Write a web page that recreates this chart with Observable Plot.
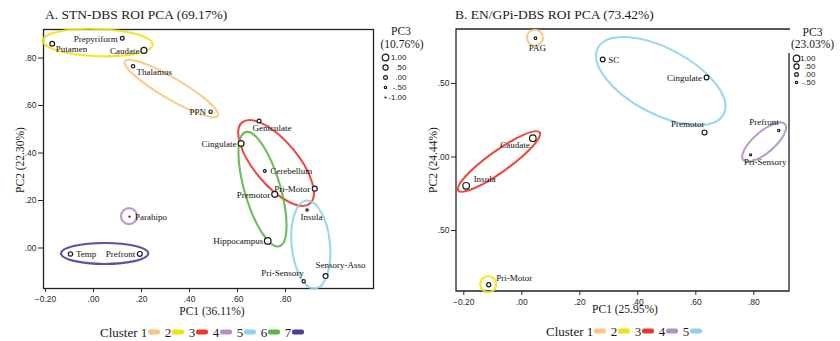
<!DOCTYPE html>
<html>
<head>
<meta charset="utf-8">
<script src="https://cdn.jsdelivr.net/npm/d3@7"></script>
<script src="https://cdn.jsdelivr.net/npm/@observablehq/plot@0.6"></script>
<style>
  html, body { margin: 0; padding: 0; background: #fff; }
  #chart { position: relative; width: 840px; height: 341px; overflow: hidden; background: #fff; }
  #chart > svg { position: absolute; overflow: visible; }
  .t { position: absolute; white-space: nowrap; font-family: "Liberation Serif", "Times New Roman", serif; color: #1a1a1a; line-height: 1; }
  .legend { position: absolute; display: flex; align-items: center; font-family: "Liberation Serif", serif; font-size: 13px; color: #1a1a1a; white-space: nowrap; line-height: 1; transform: translateY(-50%); }
  .sw { display: inline-block; width: 12px; height: 5px; border-radius: 2px; margin: 0 4.5px 0 1px; }
</style>
</head>
<body>
<div id="chart"></div>
<script>
// ---------------- data ----------------
const clusterColors = ["#f8c882", "#efe313", "#e9392a", "#b390c8", "#92d1eb", "#5db548", "#4c3d98"];

// Panel A
const leftTitle = "A. STN-DBS ROI PCA (69.17%)";
const leftXLabel = "PC1 (36.11%)";
const leftYLabel = "PC2 (22.30%)";
const leftSizeTitle = ["PC3", "(10.76%)"];
const leftRegions = ["Putamen", "Prepyriform", "Caudate", "Thalamus", "PPN", "Geniculate", "Cingulate", "Cerebellum", "Pri-Motor", "Premotor", "Parahipo", "Insula", "Hippocampus", "Temp", "Prefront", "Pri-Sensory", "Sensory-Asso"];
const leftPC1 = [-0.172, 0.120, 0.210, 0.165, 0.488, 0.690, 0.615, 0.714, 0.922, 0.755, 0.150, 0.890, 0.726, -0.096, 0.193, 0.876, 0.967];
const leftPC2 = [0.860, 0.883, 0.832, 0.765, 0.574, 0.535, 0.440, 0.324, 0.250, 0.226, 0.132, 0.160, 0.030, -0.025, -0.025, -0.140, -0.118];
const leftPC3 = [0.35, 0.0, 0.75, -0.15, -0.15, 0.0, 0.75, -0.35, 0.4, 0.75, -1.0, -0.5, 1.0, 0.2, 0.4, -0.2, 0.4];
const leftCluster = [2, 2, 2, 1, 1, 3, 6, 3, 3, 6, 4, 5, 6, 7, 7, 5, 5];
const leftLabelSide = ["rightBelow", "left", "left", "rightBelow", "left", "below", "left", "right", "left", "left", "right", "below", "left", "right", "left", "aboveLeft", "above"];
const leftXTicks = [-0.2, 0, 0.2, 0.4, 0.6, 0.8];
const leftYTicks = [0, 0.2, 0.4, 0.6, 0.8];
const leftClusters = [1, 2, 3, 4, 5, 6, 7];
const leftSizeValues = [1, 0.5, 0, -0.5, -1];
const leftSizeLabels = ["1.00", ".50", ".00", "-.50", "-1.00"];

// Panel B
const rightTitle = "B. EN/GPi-DBS ROI PCA (73.42%)";
const rightXLabel = "PC1 (25.95%)";
const rightYLabel = "PC2 (24.44%)";
const rightSizeTitle = ["PC3", "(23.03%)"];
const rightRegions = ["PAG", "SC", "Cingulate", "Premotor", "Prefront", "Pri-Sensory", "Caudate", "Insula", "Pri-Motor"];
const rightPC1 = [0.047, 0.279, 0.637, 0.630, 0.886, 0.789, 0.038, -0.192, -0.114];
const rightPC2 = [0.808, 0.663, 0.541, 0.167, 0.180, 0.015, 0.128, -0.196, -0.869];
const rightPC3 = [-0.45, 0.35, 0.35, 0.4, -0.5, -0.6, 1.0, 1.0, 0.1];
const rightCluster = [1, 5, 5, 5, 4, 4, 3, 3, 2];
const rightLabelSide = ["belowCenter", "right", "left", "aboveLeft", "aboveLeft", "below", "leftBelow", "aboveRight", "aboveRight"];
const rightXTicks = [-0.2, 0, 0.2, 0.4, 0.6, 0.8];
const rightYTicks = [0.5, 0, -0.5];
const rightYTickLabels = [".50", ".00", ".50"];
const rightClusters = [1, 2, 3, 4, 5];
const rightSizeValues = [1, 0.5, 0, -0.5];
const rightSizeLabels = ["1.00", ".50", ".00", "-.50"];

// ---------------- helpers ----------------
const rows = (names, x, y, r, c, side) => names.map((name, i) => ({name, pc1: x[i], pc2: y[i], pc3: r[i], cluster: c[i], side: side[i]}));
const leftData = rows(leftRegions, leftPC1, leftPC2, leftPC3, leftCluster, leftLabelSide);
const rightData = rows(rightRegions, rightPC1, rightPC2, rightPC3, rightCluster, rightLabelSide);

const fmt = d => d3.format(".2f")(d).replace(/^(-?)0\./, "$1.");
const rScale = {type: "linear", domain: [-1, 1], range: [0.5, 3.3]};
const serif = "Liberation Serif, Times New Roman, serif";
const sans = "Liberation Sans, Arial, sans-serif";
const plotStyle = {fontFamily: sans, fontSize: "8.5px", color: "#2a2a2a", background: "transparent", overflow: "visible"};

const placements = {
  right:       {textAnchor: "start",  dx: 5.5,  dy: 0.5},
  rightBelow:  {textAnchor: "start",  dx: 3.5,  dy: 5.5},
  left:        {textAnchor: "end",    dx: -4.5, dy: 0.5},
  below:       {textAnchor: "start",  dx: -6.5, dy: 7.5},
  aboveLeft:   {textAnchor: "end",    dx: 0,    dy: -8.3},
  above:       {textAnchor: "start",  dx: -10,  dy: -10.7},
  aboveRight:  {textAnchor: "start",  dx: 7.5,  dy: -6.3},
  belowCenter: {textAnchor: "middle", dx: 2,    dy: 9.6},
  leftBelow:   {textAnchor: "end",    dx: -3,   dy: 6.6}
};
const labelMarks = data => Object.keys(placements).map(k =>
  Plot.text(data, {filter: d => d.side === k, x: "pc1", y: "pc2", text: "name",
    ...placements[k], fontFamily: serif, fontSize: 9, fill: "#111"}));

// cluster ellipses computed (in pixel space) from member points
function clusterEllipses(data) {
  return (index, scales) => {
    const g = d3.create("svg:g").attr("fill", "none").attr("stroke-width", 2.1).attr("stroke-opacity", 0.9);
    for (const [c, pts] of d3.group(data, d => d.cluster)) {
      const P = pts.map(d => [scales.x(d.pc1), scales.y(d.pc2)]);
      let cx, cy, a, b, ang = 0;
      if (P.length === 1) { [cx, cy] = P[0]; a = b = 8; }
      else {
        const mx = d3.mean(P, p => p[0]), my = d3.mean(P, p => p[1]);
        let sxx = 0, syy = 0, sxy = 0;
        for (const [x, y] of P) { sxx += (x - mx) ** 2; syy += (y - my) ** 2; sxy += (x - mx) * (y - my); }
        ang = 0.5 * Math.atan2(2 * sxy, sxx - syy);
        const ux = Math.cos(ang), uy = Math.sin(ang);
        const pu = P.map(([x, y]) => (x - mx) * ux + (y - my) * uy);
        const pv = P.map(([x, y]) => -(x - mx) * uy + (y - my) * ux);
        const [u0, u1] = d3.extent(pu), [v0, v1] = d3.extent(pv);
        cx = mx + ux * (u0 + u1) / 2 - uy * (v0 + v1) / 2;
        cy = my + uy * (u0 + u1) / 2 + ux * (v0 + v1) / 2;
        a = (u1 - u0) / 2 + 9;
        b = Math.max((v1 - v0) / 2 + 8, 10.5);
      }
      g.append("ellipse").attr("rx", a).attr("ry", b)
        .attr("transform", `translate(${cx},${cy}) rotate(${ang * 180 / Math.PI})`)
        .attr("stroke", clusterColors[c - 1]);
    }
    return g.node();
  };
}

// open-corner frame for panel B (right edge starts below the size legend)
function frameB(index, scales, values, dim) {
  const L = dim.marginLeft, R = dim.width - dim.marginRight, T = dim.marginTop, B = dim.height - dim.marginBottom;
  return d3.create("svg:path").attr("fill", "none").attr("stroke", "#222").attr("stroke-width", 1.3)
    .attr("d", `M${R},${T + 24}V${B}H${L}V${T}H${R + 1}`).node();
}

// ---------------- plots ----------------
const chart = document.getElementById("chart");

const leftPlot = Plot.plot({
  width: 420, height: 341,
  marginLeft: 43, marginRight: 47, marginTop: 29, marginBottom: 53,
  x: {domain: [-0.2083, 1.1667], ticks: leftXTicks, tickFormat: fmt, tickSize: 4, tickPadding: 3, label: null},
  y: {domain: [-0.1705, 0.92], ticks: leftYTicks, tickFormat: fmt, tickSize: 5, tickPadding: 2, label: null},
  r: rScale,
  style: plotStyle,
  marks: [
    Plot.frame({stroke: "#222", strokeWidth: 1.3}),
    clusterEllipses(leftData),
    Plot.dot(leftData, {x: "pc1", y: "pc2", r: "pc3", fill: "white", stroke: "#1a1a1a", strokeWidth: 1.2}),
    ...labelMarks(leftData)
  ]
});
leftPlot.style.left = "0px"; leftPlot.style.top = "0px";
chart.appendChild(leftPlot);

const rightPlot = Plot.plot({
  width: 420, height: 341,
  marginLeft: 36, marginRight: 51, marginTop: 29, marginBottom: 50,
  x: {domain: [-0.2252, 0.9231], ticks: rightXTicks, tickFormat: fmt, tickSize: 4, tickPadding: 3, label: null},
  y: {domain: [-0.915, 0.8673], ticks: rightYTicks, tickFormat: d => rightYTickLabels[rightYTicks.indexOf(d)], tickSize: 5, tickPadding: 2, label: null},
  r: rScale,
  style: plotStyle,
  marks: [
    frameB,
    clusterEllipses(rightData),
    Plot.dot(rightData, {x: "pc1", y: "pc2", r: "pc3", fill: "white", stroke: "#1a1a1a", strokeWidth: 1.2}),
    ...labelMarks(rightData)
  ]
});
rightPlot.style.left = "420px"; rightPlot.style.top = "0px";
chart.appendChild(rightPlot);

// size legends (PC3)
function sizeLegend(values, labels, w, rowH, left, top) {
  const n = values.length;
  const p = Plot.plot({
    width: w, height: rowH * n, margin: 0,
    x: {domain: [0, w], axis: null},
    y: {domain: [n - 0.5, -0.5], axis: null},
    r: rScale,
    style: {...plotStyle, fontSize: "8px"},
    marks: [
      Plot.dot(values, {x: 7, y: (d, i) => i, r: d => d, fill: "white", stroke: "#1a1a1a", strokeWidth: 1.2}),
      Plot.text(values, {x: w - 2, y: (d, i) => i, text: (d, i) => labels[i], textAnchor: "end", fontFamily: sans, fontSize: 8, fill: "#222"})
    ]
  });
  p.style.left = left + "px"; p.style.top = top + "px";
  chart.appendChild(p);
}
sizeLegend(leftSizeValues, leftSizeLabels, 30, 10, 378, 52);
sizeLegend(rightSizeValues, rightSizeLabels, 28, 8, 789, 54);

// ---------------- text ----------------
function txt(s, x, y, size, opts = {}) {
  const d = document.createElement("div");
  d.className = "t";
  d.textContent = s;
  d.style.left = x + "px"; d.style.top = y + "px"; d.style.fontSize = size + "px";
  d.style.transform = opts.transform || "translate(-50%,-50%)";
  chart.appendChild(d);
  return d;
}
txt(leftTitle, 45, 15, 13.5, {transform: "translate(0,-50%)"});
txt(rightTitle, 455, 15, 13.5, {transform: "translate(0,-50%)"});
txt(leftXLabel, 212, 312, 11.5);
txt(rightXLabel, 625, 310, 11.5);
txt(leftYLabel, 21, 160, 11.5, {transform: "translate(-50%,-50%) rotate(-90deg)"});
txt(rightYLabel, 434, 160, 11.5, {transform: "translate(-50%,-50%) rotate(-90deg)"});
txt(leftSizeTitle[0], 401, 32, 11.5);
txt(leftSizeTitle[1], 402, 45, 11.5);
txt(rightSizeTitle[0], 812.5, 33, 11.5);
txt(rightSizeTitle[1], 812.5, 45, 11.5);

function clusterLegend(ids, left, top) {
  const d = document.createElement("div");
  d.className = "legend";
  d.style.left = left + "px"; d.style.top = top + "px";
  let html = "Cluster&nbsp;";
  for (const c of ids) html += `<span>${c}</span><span class="sw" style="background:${clusterColors[c - 1]}"></span>`;
  d.innerHTML = html;
  chart.appendChild(d);
}
clusterLegend(leftClusters, 100, 332);
clusterLegend(rightClusters, 546, 331);
</script>
</body>
</html>
